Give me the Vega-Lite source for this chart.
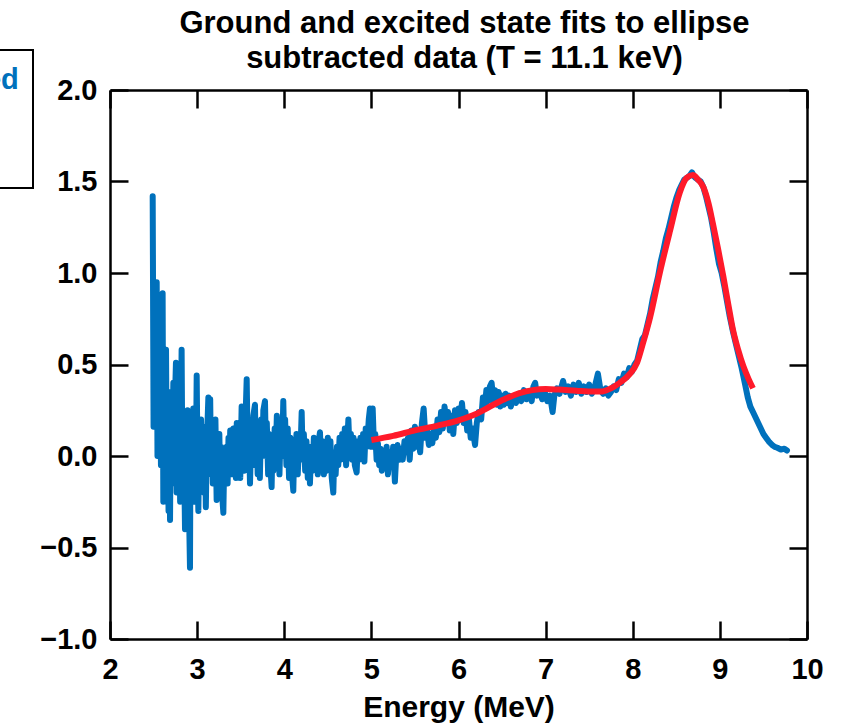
{
  "$schema": "https://vega.github.io/schema/vega-lite/v6.json",
  "autosize": "none",
  "width": 697,
  "height": 549,
  "padding": {"left": 110, "top": 90, "right": 42, "bottom": 88},
  "background": "white",
  "config": {
    "view": {"stroke": null},
    "font": "Liberation Sans",
    "axis": {
      "grid": false,
      "domainColor": "black",
      "domainWidth": 2.5,
      "tickColor": "black",
      "tickWidth": 2.5,
      "tickSize": -18,
      "labelFlush": false,
      "labelOverlap": false,
      "labelFont": "Liberation Sans",
      "labelFontSize": 29,
      "labelFontWeight": "bold",
      "labelColor": "black",
      "titleFont": "Liberation Sans",
      "titleFontSize": 30,
      "titleFontWeight": "bold",
      "titleColor": "black"
    }
  },
  "title": {
    "text": ["Ground and excited state fits to ellipse", "subtracted data (T = 11.1 keV)"],
    "font": "Liberation Sans",
    "fontSize": 31,
    "fontWeight": "bold",
    "color": "black",
    "anchor": "middle",
    "frame": "group",
    "baseline": "alphabetic",
    "lineHeight": 35,
    "offset": -50,
    "dx": 6
  },
  "layer": [
    {
      "data": {"values": [
        {"e":2.490,"v":1.42},{"e":2.500,"v":0.16},{"e":2.510,"v":0.45},{"e":2.520,"v":0.20},{"e":2.536,"v":0.95},{"e":2.545,"v":0.00},{"e":2.555,"v":0.35},{"e":2.565,"v":0.10},{"e":2.575,"v":0.40},{"e":2.585,"v":-0.05},
        {"e":2.604,"v":0.89},{"e":2.612,"v":-0.25},{"e":2.622,"v":0.30},{"e":2.632,"v":-0.20},{"e":2.643,"v":0.58},{"e":2.652,"v":-0.10},{"e":2.662,"v":0.25},{"e":2.672,"v":-0.30},{"e":2.680,"v":0.20},{"e":2.689,"v":-0.35},
        {"e":2.700,"v":0.35},{"e":2.710,"v":-0.15},{"e":2.727,"v":0.40},{"e":2.735,"v":-0.05},{"e":2.745,"v":0.30},{"e":2.757,"v":0.51},{"e":2.765,"v":-0.20},{"e":2.775,"v":0.35},{"e":2.785,"v":-0.10},{"e":2.795,"v":0.45},
        {"e":2.805,"v":-0.25},{"e":2.822,"v":0.58},{"e":2.832,"v":-0.15},{"e":2.845,"v":0.20},{"e":2.861,"v":-0.40},{"e":2.870,"v":0.15},{"e":2.880,"v":-0.20},{"e":2.890,"v":0.25},{"e":2.900,"v":-0.10},{"e":2.918,"v":-0.61},
        {"e":2.925,"v":0.23},{"e":2.935,"v":-0.05},{"e":2.945,"v":0.15},{"e":2.956,"v":0.26},{"e":2.965,"v":-0.25},{"e":2.975,"v":0.10},{"e":2.985,"v":-0.10},{"e":2.995,"v":0.44},{"e":3.005,"v":-0.05},{"e":3.014,"v":-0.30},
        {"e":3.025,"v":0.10},{"e":3.035,"v":-0.15},{"e":3.045,"v":0.20},{"e":3.055,"v":-0.05},{"e":3.071,"v":0.16},{"e":3.080,"v":-0.20},{"e":3.090,"v":0.12},{"e":3.100,"v":-0.28},{"e":3.110,"v":0.05},{"e":3.129,"v":0.32},
        {"e":3.140,"v":-0.05},{"e":3.150,"v":0.31},{"e":3.160,"v":-0.10},{"e":3.170,"v":0.18},{"e":3.180,"v":-0.15},{"e":3.190,"v":0.10},{"e":3.200,"v":-0.05},{"e":3.210,"v":0.20},{"e":3.224,"v":-0.24},{"e":3.235,"v":0.05},
        {"e":3.245,"v":-0.10},{"e":3.255,"v":0.12},{"e":3.265,"v":-0.18},{"e":3.275,"v":0.05},{"e":3.285,"v":-0.20},{"e":3.301,"v":-0.31},{"e":3.312,"v":0.00},{"e":3.320,"v":-0.12},{"e":3.339,"v":0.05},{"e":3.350,"v":-0.15},
        {"e":3.360,"v":0.10},{"e":3.370,"v":-0.05},{"e":3.380,"v":0.14},{"e":3.390,"v":-0.10},{"e":3.400,"v":0.08},{"e":3.416,"v":0.15},{"e":3.425,"v":-0.08},{"e":3.435,"v":0.12},{"e":3.445,"v":-0.12},{"e":3.455,"v":0.18},
        {"e":3.465,"v":-0.05},{"e":3.480,"v":0.10},{"e":3.495,"v":-0.12},{"e":3.511,"v":0.27},{"e":3.520,"v":0.00},{"e":3.530,"v":0.15},{"e":3.540,"v":-0.08},{"e":3.555,"v":0.20},{"e":3.569,"v":0.42},{"e":3.580,"v":0.05},
        {"e":3.590,"v":0.20},{"e":3.607,"v":-0.15},{"e":3.620,"v":0.10},{"e":3.630,"v":-0.05},{"e":3.645,"v":0.22},{"e":3.664,"v":0.28},{"e":3.675,"v":-0.05},{"e":3.685,"v":0.15},{"e":3.695,"v":-0.10},{"e":3.710,"v":0.12},
        {"e":3.720,"v":-0.12},{"e":3.735,"v":0.20},{"e":3.750,"v":0.00},{"e":3.760,"v":0.25},{"e":3.779,"v":0.30},{"e":3.790,"v":0.00},{"e":3.800,"v":0.18},{"e":3.815,"v":-0.10},{"e":3.825,"v":0.12},{"e":3.840,"v":-0.05},
        {"e":3.855,"v":-0.17},{"e":3.865,"v":0.08},{"e":3.875,"v":-0.08},{"e":3.890,"v":0.15},{"e":3.900,"v":-0.05},{"e":3.915,"v":0.22},{"e":3.930,"v":0.10},{"e":3.945,"v":-0.10},{"e":3.960,"v":0.18},{"e":3.975,"v":0.00},
        {"e":3.989,"v":0.30},{"e":4.000,"v":0.05},{"e":4.010,"v":0.20},{"e":4.025,"v":-0.05},{"e":4.040,"v":0.15},{"e":4.055,"v":-0.12},{"e":4.070,"v":0.10},{"e":4.085,"v":-0.08},{"e":4.104,"v":-0.19},{"e":4.115,"v":0.05},
        {"e":4.125,"v":-0.05},{"e":4.140,"v":0.12},{"e":4.155,"v":-0.10},{"e":4.170,"v":0.08},{"e":4.185,"v":0.00},{"e":4.200,"v":0.24},{"e":4.212,"v":-0.02},{"e":4.225,"v":0.12},{"e":4.240,"v":-0.08},{"e":4.255,"v":0.08},
        {"e":4.270,"v":-0.12},{"e":4.285,"v":0.05},{"e":4.295,"v":-0.15},{"e":4.310,"v":0.05},{"e":4.325,"v":-0.08},{"e":4.340,"v":0.10},{"e":4.355,"v":-0.05},{"e":4.370,"v":0.05},{"e":4.385,"v":-0.10},{"e":4.395,"v":0.08},
        {"e":4.410,"v":0.13},{"e":4.425,"v":-0.05},{"e":4.440,"v":0.08},{"e":4.455,"v":-0.10},{"e":4.470,"v":0.05},{"e":4.485,"v":-0.08},{"e":4.500,"v":0.10},{"e":4.515,"v":-0.05},{"e":4.530,"v":0.08},{"e":4.545,"v":-0.12},
        {"e":4.563,"v":-0.20},{"e":4.575,"v":0.02},{"e":4.590,"v":-0.10},{"e":4.605,"v":0.05},{"e":4.620,"v":-0.05},{"e":4.635,"v":0.10},{"e":4.650,"v":-0.02},{"e":4.665,"v":0.12},{"e":4.680,"v":0.00},{"e":4.695,"v":0.15},
        {"e":4.710,"v":-0.05},{"e":4.736,"v":0.20},{"e":4.750,"v":0.02},{"e":4.765,"v":0.12},{"e":4.780,"v":-0.02},{"e":4.795,"v":0.10},{"e":4.810,"v":-0.05},{"e":4.831,"v":-0.09},{"e":4.845,"v":0.08},{"e":4.860,"v":-0.02},
        {"e":4.875,"v":0.10},{"e":4.890,"v":0.00},{"e":4.905,"v":0.12},{"e":4.920,"v":-0.03},{"e":4.935,"v":0.15},{"e":4.950,"v":0.05},{"e":4.970,"v":0.20},{"e":4.984,"v":0.26},{"e":5.000,"v":0.05},{"e":5.015,"v":0.26},
        {"e":5.030,"v":0.05},{"e":5.045,"v":0.12},{"e":5.060,"v":-0.02},{"e":5.075,"v":0.07},{"e":5.090,"v":-0.05},{"e":5.105,"v":0.04},{"e":5.120,"v":-0.08},{"e":5.140,"v":0.03},{"e":5.160,"v":-0.05},{"e":5.175,"v":0.05},
        {"e":5.190,"v":-0.10},{"e":5.210,"v":0.02},{"e":5.230,"v":-0.06},{"e":5.250,"v":0.05},{"e":5.270,"v":-0.14},{"e":5.285,"v":0.00},{"e":5.300,"v":0.06},{"e":5.320,"v":-0.02},{"e":5.340,"v":0.04},{"e":5.360,"v":-0.02},
        {"e":5.380,"v":0.08},{"e":5.400,"v":0.02},{"e":5.420,"v":0.10},{"e":5.440,"v":-0.02},{"e":5.460,"v":0.14},{"e":5.480,"v":0.04},{"e":5.500,"v":0.16},{"e":5.520,"v":0.05},{"e":5.540,"v":0.10},{"e":5.560,"v":0.02},
        {"e":5.580,"v":0.18},{"e":5.600,"v":0.26},{"e":5.620,"v":0.10},{"e":5.640,"v":0.14},{"e":5.660,"v":0.06},{"e":5.680,"v":0.12},{"e":5.700,"v":0.07},{"e":5.720,"v":0.16},{"e":5.740,"v":0.10},{"e":5.760,"v":0.20},
        {"e":5.780,"v":0.13},{"e":5.800,"v":0.24},{"e":5.820,"v":0.15},{"e":5.840,"v":0.27},{"e":5.860,"v":0.18},{"e":5.880,"v":0.24},{"e":5.900,"v":0.14},{"e":5.920,"v":0.22},{"e":5.940,"v":0.12},{"e":5.960,"v":0.25},
        {"e":5.980,"v":0.18},{"e":6.000,"v":0.26},{"e":6.020,"v":0.20},{"e":6.040,"v":0.29},{"e":6.060,"v":0.18},{"e":6.080,"v":0.24},{"e":6.100,"v":0.14},{"e":6.120,"v":0.20},{"e":6.140,"v":0.10},{"e":6.160,"v":0.15},
        {"e":6.190,"v":0.06},{"e":6.210,"v":0.18},{"e":6.230,"v":0.24},{"e":6.260,"v":0.20},{"e":6.280,"v":0.32},{"e":6.300,"v":0.26},{"e":6.320,"v":0.36},{"e":6.340,"v":0.30},{"e":6.360,"v":0.38},{"e":6.380,"v":0.40},
        {"e":6.400,"v":0.30},{"e":6.420,"v":0.36},{"e":6.440,"v":0.28},{"e":6.460,"v":0.35},{"e":6.480,"v":0.27},{"e":6.500,"v":0.33},{"e":6.520,"v":0.28},{"e":6.540,"v":0.34},{"e":6.560,"v":0.29},{"e":6.580,"v":0.33},
        {"e":6.600,"v":0.27},{"e":6.630,"v":0.32},{"e":6.660,"v":0.29},{"e":6.690,"v":0.34},{"e":6.720,"v":0.30},{"e":6.750,"v":0.36},{"e":6.780,"v":0.31},{"e":6.810,"v":0.35},{"e":6.840,"v":0.30},{"e":6.860,"v":0.38},
        {"e":6.880,"v":0.40},{"e":6.900,"v":0.33},{"e":6.930,"v":0.36},{"e":6.960,"v":0.31},{"e":6.990,"v":0.35},{"e":7.020,"v":0.30},{"e":7.050,"v":0.33},{"e":7.080,"v":0.24},{"e":7.100,"v":0.33},{"e":7.130,"v":0.37},
        {"e":7.160,"v":0.34},{"e":7.200,"v":0.41},{"e":7.230,"v":0.35},{"e":7.260,"v":0.38},{"e":7.290,"v":0.33},{"e":7.320,"v":0.39},{"e":7.350,"v":0.35},{"e":7.380,"v":0.40},{"e":7.410,"v":0.34},{"e":7.440,"v":0.38},
        {"e":7.470,"v":0.35},{"e":7.500,"v":0.39},{"e":7.530,"v":0.34},{"e":7.560,"v":0.37},{"e":7.600,"v":0.45},{"e":7.630,"v":0.36},{"e":7.660,"v":0.34},{"e":7.690,"v":0.37},{"e":7.720,"v":0.33},{"e":7.750,"v":0.35},
        {"e":7.780,"v":0.38},{"e":7.810,"v":0.36},{"e":7.840,"v":0.42},{"e":7.870,"v":0.40},{"e":7.900,"v":0.45},{"e":7.930,"v":0.43},{"e":7.960,"v":0.48},{"e":7.990,"v":0.46},{"e":8.020,"v":0.50},{"e":8.050,"v":0.52},
        {"e":8.080,"v":0.58},{"e":8.110,"v":0.64},{"e":8.140,"v":0.66},{"e":8.170,"v":0.72},{"e":8.200,"v":0.78},{"e":8.230,"v":0.86},{"e":8.260,"v":0.92},{"e":8.290,"v":0.98},{"e":8.320,"v":1.06},{"e":8.350,"v":1.12},
        {"e":8.380,"v":1.19},{"e":8.410,"v":1.24},{"e":8.440,"v":1.30},{"e":8.470,"v":1.36},{"e":8.500,"v":1.41},{"e":8.530,"v":1.45},{"e":8.560,"v":1.48},{"e":8.590,"v":1.51},{"e":8.620,"v":1.52},{"e":8.650,"v":1.53},
        {"e":8.680,"v":1.55},{"e":8.700,"v":1.53},{"e":8.720,"v":1.52},{"e":8.750,"v":1.51},{"e":8.780,"v":1.50},{"e":8.810,"v":1.47},{"e":8.840,"v":1.42},{"e":8.870,"v":1.36},{"e":8.900,"v":1.30},{"e":8.930,"v":1.22},
        {"e":8.960,"v":1.13},{"e":8.990,"v":1.05},{"e":9.020,"v":1.00},{"e":9.050,"v":0.93},{"e":9.080,"v":0.85},{"e":9.110,"v":0.77},{"e":9.150,"v":0.68},{"e":9.200,"v":0.58},{"e":9.250,"v":0.48},{"e":9.290,"v":0.39},
        {"e":9.320,"v":0.32},{"e":9.350,"v":0.27},{"e":9.380,"v":0.24},{"e":9.410,"v":0.21},{"e":9.440,"v":0.18},{"e":9.470,"v":0.15},{"e":9.500,"v":0.12},{"e":9.530,"v":0.10},{"e":9.560,"v":0.08},{"e":9.600,"v":0.06},
        {"e":9.630,"v":0.05},{"e":9.660,"v":0.045},{"e":9.700,"v":0.035},{"e":9.740,"v":0.04},{"e":9.770,"v":0.03}
      ]},
      "mark": {"type": "line", "strokeWidth": 6, "strokeJoin": "round", "strokeCap": "round"},
      "encoding": {
        "x": {"field": "e", "type": "quantitative", "sort": null,
              "scale": {"domain": [2, 10], "nice": false, "zero": false},
              "axis": {"orient": "bottom", "values": [2,3,4,5,6,7,8,9,10], "format": "d", "title": "Energy (MeV)", "labelPadding": 34, "titlePadding": 8}},
        "y": {"field": "v", "type": "quantitative",
              "scale": {"domain": [-1, 2], "nice": false, "zero": false},
              "axis": {"orient": "left", "values": [-1,-0.5,0,0.5,1,1.5,2], "format": ".1f", "title": null, "labelPadding": 31}},
        "color": {"datum": "Ellipse subtracted",
                  "scale": {"domain": ["Ellipse subtracted", "Fit"], "range": ["#0071BC", "#FF1A2A"]},
                  "legend": {"orient": "none", "legendX": -395, "legendY": -40, "title": null,
                             "strokeColor": "black", "fillColor": "white", "padding": 14,
                             "labelFont": "Liberation Sans", "labelFontSize": 29, "labelFontWeight": "bold", "labelLimit": 0,
                             "labelOffset": 8, "symbolType": "stroke", "symbolSize": 700, "symbolStrokeWidth": 5, "rowPadding": 48,
                             "encode": {"legend": {"update": {"strokeWidth": {"value": 2}}},
                                        "labels": {"update": {"fill": {"scale": "color", "field": "value"}}}}}}
      }
    },
    {
      "data": {"values": [
        {"e":5.00,"v":0.087},{"e":5.25,"v":0.11},{"e":5.50,"v":0.14},{"e":5.75,"v":0.165},{"e":6.00,"v":0.195},{"e":6.20,"v":0.23},{"e":6.40,"v":0.28},{"e":6.55,"v":0.315},{"e":6.70,"v":0.343},{"e":6.85,"v":0.36},
        {"e":7.00,"v":0.366},{"e":7.15,"v":0.363},{"e":7.35,"v":0.357},{"e":7.55,"v":0.352},{"e":7.65,"v":0.353},{"e":7.75,"v":0.37},{"e":7.85,"v":0.40},{"e":7.95,"v":0.44},{"e":8.05,"v":0.51},{"e":8.12,"v":0.62},
        {"e":8.20,"v":0.76},{"e":8.31,"v":1.00},{"e":8.43,"v":1.235},{"e":8.54,"v":1.44},{"e":8.62,"v":1.52},{"e":8.69,"v":1.535},{"e":8.75,"v":1.51},{"e":8.81,"v":1.47},{"e":8.87,"v":1.38},{"e":8.92,"v":1.27},
        {"e":8.98,"v":1.13},{"e":9.04,"v":0.98},{"e":9.10,"v":0.82},{"e":9.15,"v":0.69},{"e":9.21,"v":0.58},{"e":9.27,"v":0.49},{"e":9.33,"v":0.42},{"e":9.38,"v":0.37}
      ]},
      "mark": {"type": "line", "strokeWidth": 6, "strokeCap": "butt", "interpolate": "monotone"},
      "encoding": {
        "x": {"field": "e", "type": "quantitative", "sort": null,
              "axis": {"orient": "top", "values": [2,3,4,5,6,7,8,9,10], "labels": false, "title": null}},
        "y": {"field": "v", "type": "quantitative",
              "axis": {"orient": "right", "values": [-1,-0.5,0,0.5,1,1.5,2], "labels": false, "title": null}},
        "color": {"datum": "Fit"}
      }
    }
  ]
}
